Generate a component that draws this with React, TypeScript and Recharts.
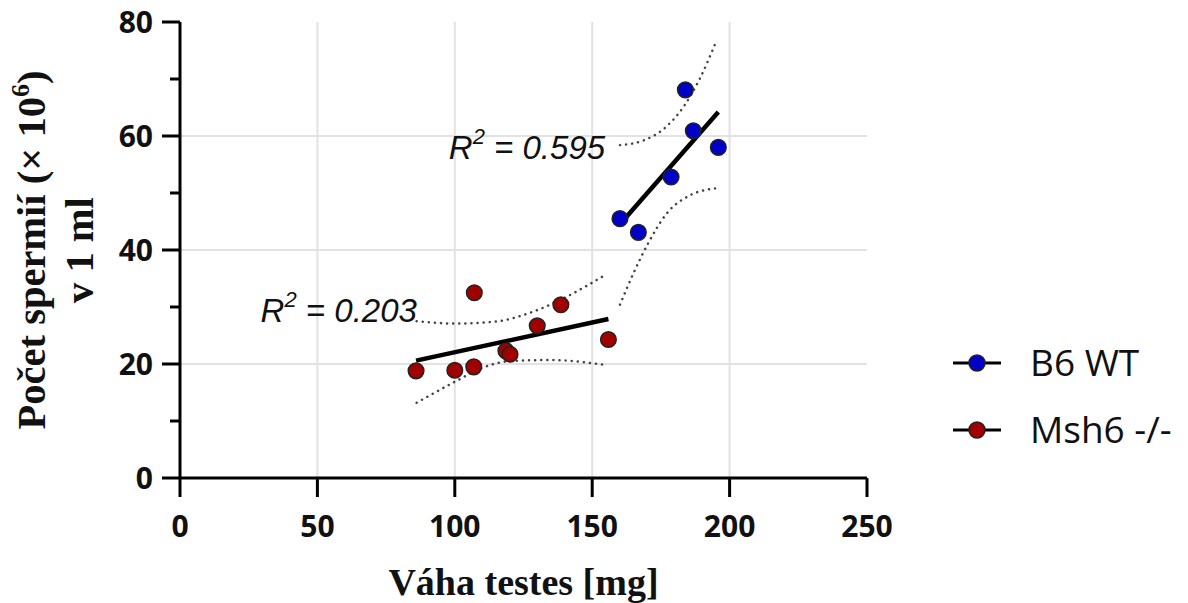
import React from 'react';
import { ScatterChart, Scatter, XAxis, YAxis, CartesianGrid, Legend, ReferenceDot } from 'recharts';

// axis ticks and grid positions
const xTicks = [0, 50, 100, 150, 200, 250];
const yTicks = [0, 10, 20, 30, 40, 50, 60, 70, 80];
const gridX = [50, 100, 150, 200];
const gridY = [20, 40, 60];

// B6 WT
const wtWeight = [160.1, 166.8, 178.7, 183.9, 186.8, 195.9];
const wtCount = [45.5, 43.1, 52.8, 68.1, 60.9, 58.0];
const wtFitX = [160.1, 195.9];
const wtFitY = [44.5, 64.2];
const wtBandX = [160.1, 168.6, 177.1, 183.2, 189.2, 195.3];
const wtUpper = [58.4, 59.2, 61.7, 65.1, 70.1, 76.8];
const wtLowerX = [160.1, 165.0, 170.4, 177.1, 185.6, 194.7];
const wtLower = [30.4, 35.9, 41.2, 46.4, 49.6, 50.8];

// Msh6 -/-
const koWeight = [85.9, 100.0, 106.9, 107.1, 118.6, 120.1, 130.0, 138.6, 155.9];
const koCount = [18.8, 18.9, 19.5, 32.5, 22.3, 21.7, 26.7, 30.4, 24.3];
const koFitX = [85.9, 155.9];
const koFitY = [20.6, 27.9];
const koUpperX = [86.1, 100.1, 114.0, 128.6, 140.7, 154.6];
const koUpper = [27.5, 27.1, 27.4, 29.2, 31.8, 35.6];
const koLowerX = [86.1, 100.1, 110.4, 120.1, 134.6, 155.3];
const koLower = [13.2, 16.9, 19.4, 20.5, 20.7, 19.8];

// R² annotations (anchor at end of text, baseline)
const r2Values = ['0.595', '0.203'];
const r2X = [154.7, 86.2];
const r2Y = [56.0, 27.4];

const seriesNames = ['B6 WT', 'Msh6 -/-'];
const seriesColors = ['#0000c8', '#a00000'];

const toPoints = (xs: number[], ys: number[]) => xs.map((x, i) => ({ x, y: ys[i] }));

const XTick = ({ x, y, payload }: any) => (
  <g>
    <line x1={x} x2={x} y1={y} y2={y + 19} stroke="#000" strokeWidth={3} />
    <text x={x} y={y + 59} textAnchor="middle" fontFamily="Open Sans" fontWeight={700} fontSize={30} fill="#111">
      {payload.value}
    </text>
  </g>
);

const YTick = ({ x, y, payload }: any) => {
  const major = payload.value % 20 === 0;
  return (
    <g>
      <line x1={x - (major ? 18 : 10)} x2={x} y1={y} y2={y} stroke="#000" strokeWidth={3} />
      {major && (
        <text x={x - 27} y={y + 10.5} textAnchor="end" fontFamily="Open Sans" fontWeight={700} fontSize={30} fill="#111">
          {payload.value}
        </text>
      )}
    </g>
  );
};

const YLabel = ({ viewBox }: any) => {
  const cy = viewBox.y + viewBox.height / 2;
  const right = viewBox.x + viewBox.width;
  return (
    <text
      transform={`translate(${right - 135},${cy}) rotate(-90)`}
      textAnchor="middle"
      fontFamily="Liberation Serif"
      fontWeight={700}
      fontSize={40.5}
      fill="#111"
    >
      <tspan x={0} y={0}>
        Počet spermií (× 10<tspan dy={-16} fontSize={26}>6</tspan>
        <tspan dy={16}>)</tspan>
      </tspan>
      <tspan x={0} y={48}>v 1 ml</tspan>
    </text>
  );
};

const XLabel = ({ viewBox }: any) => (
  <text
    x={viewBox.x + viewBox.width / 2}
    y={viewBox.y + 117}
    textAnchor="middle"
    fontFamily="Liberation Serif"
    fontWeight={700}
    fontSize={38}
    fill="#111"
  >
    Váha testes [mg]
  </text>
);

const R2Label = ({ viewBox, value }: any) => (
  <text x={viewBox.x} y={viewBox.y} textAnchor="end" fontFamily="Liberation Sans" fontStyle="italic" fontSize={33} fill="#111">
    R<tspan dy={-15} fontSize={22}>2</tspan>
    <tspan dy={15}> = {value}</tspan>
  </text>
);

const renderLegend = () => (
  <svg width={250} height={140}>
    {seriesNames.map((name, i) => {
      const cy = 33 + i * 67;
      return (
        <g key={name}>
          <line x1={13} x2={61} y1={cy} y2={cy} stroke="#000" strokeWidth={3} />
          <circle cx={37} cy={cy} r={8} fill={seriesColors[i]} stroke="#222" strokeWidth={1.5} />
          <text x={90} y={cy + 13} fontFamily="Open Sans" fontSize={37} fill="#111">
            {name}
          </text>
        </g>
      );
    })}
  </svg>
);

const dot = (color: string) => (p: any) => (
  <circle cx={p.cx} cy={p.cy} r={7.8} fill={color} stroke="#222" strokeWidth={1.5} />
);
const noShape = () => <g />;
const bandLine = { stroke: '#444', strokeWidth: 2.5, strokeDasharray: '0.1 6', strokeLinecap: 'round' as const };
const fitLine = { stroke: '#000', strokeWidth: 4.5 };

export default function App() {
  return (
    <div style={{ position: 'absolute', left: 0, top: 0, background: '#fff' }}>
      <ScatterChart width={1188} height={603} margin={{ top: 22, right: 321, bottom: 95, left: 120 }}>
        <CartesianGrid
          stroke="#e2e2e2"
          strokeWidth={2}
          horizontalValues={gridY}
          verticalValues={gridX}
        />
        <XAxis
          type="number"
          dataKey="x"
          domain={[0, 250]}
          ticks={xTicks}
          height={30}
          tickSize={0}
          tickMargin={0}
          tickLine={false}
          tick={XTick}
          axisLine={{ stroke: '#000', strokeWidth: 3 }}
          interval={0}
          label={{ content: XLabel }}
        />
        <YAxis
          type="number"
          dataKey="y"
          domain={[0, 80]}
          ticks={yTicks}
          width={60}
          tickSize={0}
          tickMargin={0}
          tickLine={false}
          tick={YTick}
          axisLine={{ stroke: '#000', strokeWidth: 3 }}
          interval={0}
          label={{ content: YLabel }}
        />
        <Legend layout="vertical" align="center" verticalAlign="middle" wrapperStyle={{ left: 940, top: 330 }} content={renderLegend} />

        <Scatter data={toPoints(koUpperX, koUpper)} shape={noShape} line={bandLine} lineJointType="monotoneX" legendType="none" isAnimationActive={false} />
        <Scatter data={toPoints(koLowerX, koLower)} shape={noShape} line={bandLine} lineJointType="monotoneX" legendType="none" isAnimationActive={false} />
        <Scatter data={toPoints(wtBandX, wtUpper)} shape={noShape} line={bandLine} lineJointType="monotoneX" legendType="none" isAnimationActive={false} />
        <Scatter data={toPoints(wtLowerX, wtLower)} shape={noShape} line={bandLine} lineJointType="monotoneX" legendType="none" isAnimationActive={false} />

        <Scatter data={toPoints(koFitX, koFitY)} shape={noShape} line={fitLine} legendType="none" isAnimationActive={false} />
        <Scatter data={toPoints(wtFitX, wtFitY)} shape={noShape} line={fitLine} legendType="none" isAnimationActive={false} />

        <Scatter name={seriesNames[1]} data={toPoints(koWeight, koCount)} shape={dot(seriesColors[1])} isAnimationActive={false} />
        <Scatter name={seriesNames[0]} data={toPoints(wtWeight, wtCount)} shape={dot(seriesColors[0])} isAnimationActive={false} />

        {r2Values.map((v, i) => (
          <ReferenceDot
            key={v}
            x={r2X[i]}
            y={r2Y[i]}
            r={0}
            fill="none"
            stroke="none"
            label={(props: any) => <R2Label {...props} value={v} />}
          />
        ))}
      </ScatterChart>
    </div>
  );
}
